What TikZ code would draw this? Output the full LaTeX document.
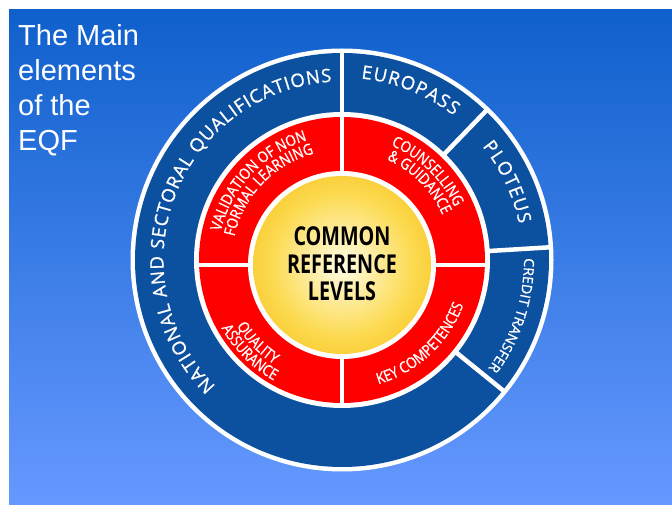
\documentclass[tikz,border=0pt]{standalone}
\usepackage{fontspec}
\setmainfont{Liberation Sans}
\newfontfamily\ringfont{Open Sans}[FakeBold=0.9]
\newfontfamily\redringfont{Open Sans}[FakeStretch=0.86, FakeBold=0.9]
\newfontfamily\corefont{Open Sans}[FakeStretch=0.76]
\usepackage{tikz}
\usetikzlibrary{decorations.text,positioning}

\definecolor{bgtop}{RGB}{15,96,204}
\definecolor{bgbot}{RGB}{102,153,255}
\definecolor{ringblue}{RGB}{12,80,160}
\definecolor{ringred}{RGB}{255,0,0}
\definecolor{goldin}{RGB}{255,252,230}
\definecolor{goldmid}{RGB}{252,218,80}
\definecolor{goldout}{RGB}{245,178,0}

\pgfdeclareradialshading{goldball}{\pgfpoint{0bp}{0bp}}{%
  color(0bp)=(goldin); color(20bp)=(goldmid); color(40bp)=(goldout); color(50bp)=(goldout)}

\tikzset{
  ringlabel/.style={decorate, decoration={text along path, text align=center, text color=white, text={#1}}},
  fitlabel/.style={decorate, decoration={text along path, text align=fit to path, text color=white, text={#1}}},
  divider/.style={white, line width=4.5pt},
}

\begin{document}
\begin{tikzpicture}[x=1pt, y=1pt]
\useasboundingbox (0,0) rectangle (672,506);

% Background
\shade[top color=bgtop, bottom color=bgbot] (9,1) rectangle (672,496);

% Title
\node[anchor=north west, inner sep=0pt, align=left, text=white, font=\fontsize{29}{35}\selectfont] (title) at (18,482) {The Main\\elements\\of the\\EQF};

\begin{scope}[shift={(342,246)}]
% Outer ring
\fill[white] (0,0) circle[radius=211.5];
\fill[ringblue] (0,0) circle[radius=207];
\fill[white] (0,0) circle[radius=148];
\foreach \a in {90,46,3.5,-39}
  \draw[divider] (\a:146) -- (\a:211);

% Inner ring
\fill[ringred] (0,0) circle[radius=143];
\draw[divider] (0,-146) -- (0,146);
\draw[divider] (-146,-5) -- (146,-5);

% Core
\fill[white] (0,-5) circle[radius=94];
\shade[shading=goldball] (0,-5) circle[radius=89];
\node[align=center, text=black, font=\corefont\bfseries\fontsize{26}{27.5}\selectfont] (levels) at (0,-4) {COMMON\\REFERENCE\\LEVELS};

% Outer labels
\ringfont\fontsize{18.5}{18.5}\selectfont
\path[fitlabel={NATIONAL AND SECTORAL QUALIFICATIONS}] (225:178.5) arc[start angle=225, end angle=93.3, radius=178.5];
\path[fitlabel={EUROPASS}] (84:182.5) arc[start angle=84, end angle=52.2, radius=182.5];
\path[fitlabel={PLOTEUS}] (39:180.5) arc[start angle=39, end angle=11.5, radius=180.5];
\fontsize{14}{14}\selectfont
\path[ringlabel={CREDIT TRANSFER}] (4.5:182) arc[start angle=4.5, end angle=-40.5, radius=182];

% Inner labels
\redringfont\fontsize{15.5}{15.5}\selectfont
\path[ringlabel={VALIDATION OF NON}] (176:124.5) arc[start angle=176, end angle=97, radius=124.5];
\path[ringlabel={FORMAL LEARNING}] (176:110) arc[start angle=176, end angle=96.5, radius=110];
\path[ringlabel={COUNSELLING}] (85:124.5) arc[start angle=85, end angle=7, radius=124.5];
\path[ringlabel={{\&} GUIDANCE}] (85:110) arc[start angle=85, end angle=5, radius=110];
\path[ringlabel={KEY COMPETENCES}] (-85:129.5) arc[start angle=-85, end angle=-9, radius=129.5];
\path[ringlabel={QUALITY}] (184:124.5) arc[start angle=184, end angle=265, radius=124.5];
\path[ringlabel={ASSURANCE}] (185:138.5) arc[start angle=185, end angle=265, radius=138.5];
\end{scope}

\end{tikzpicture}
\end{document}
